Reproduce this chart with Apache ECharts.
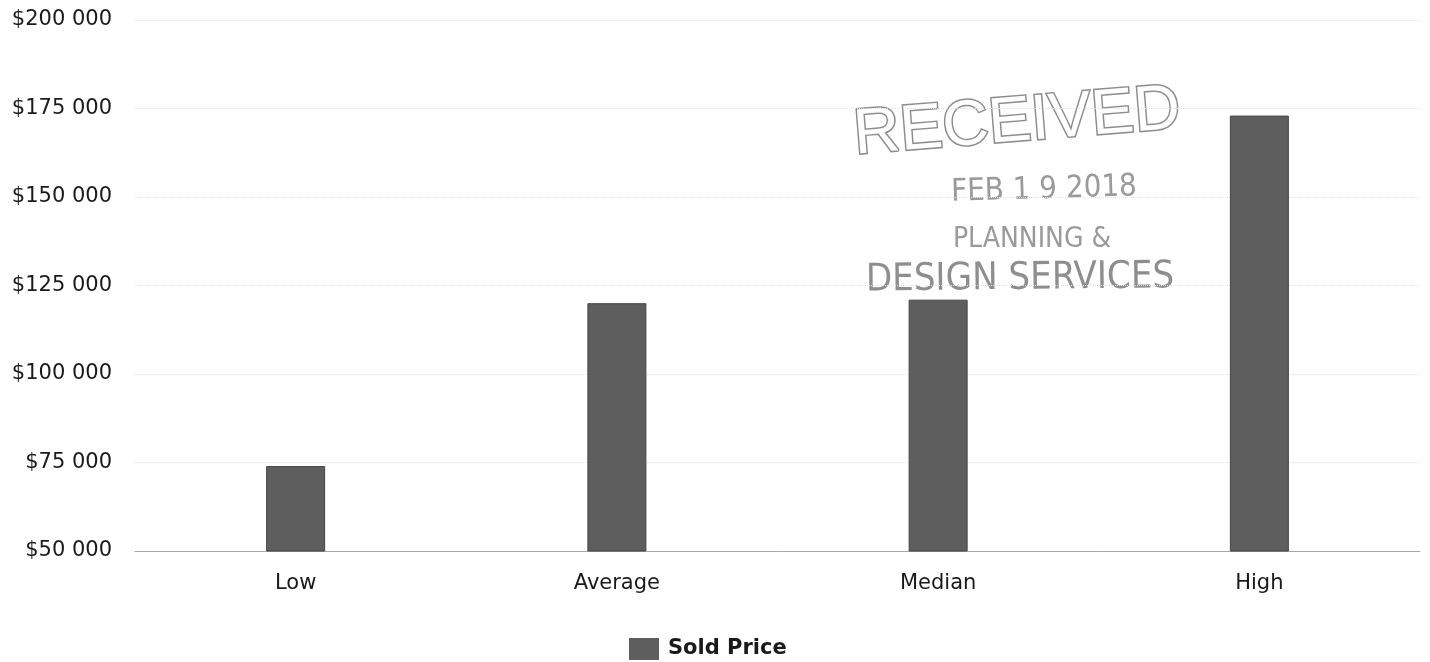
<!DOCTYPE html>
<html>
<head>
<meta charset="utf-8">
<title>Sold Price</title>
<script src="https://cdn.jsdelivr.net/npm/echarts@6/dist/echarts.min.js"></script>
<style>
  html, body { margin: 0; padding: 0; background: #fff; }
  #chart { width: 1430px; height: 662px; }
</style>
</head>
<body>
<div id="chart"></div>
<script>
// 数据
var categories = ['Low', 'Average', 'Median', 'High'];
var soldPrice = [74000, 120000, 121000, 173000];
var yMin = 50000;
var yMax = 200000;
var yStep = 25000;

// 千位用空格分隔: $200 000
function money(v) {
  return '$' + String(v).replace(/\B(?=(\d{3})+(?!\d))/g, ' ');
}

var labelFont = '"DejaVu Sans", "Open Sans", sans-serif';
var stampFont = '"Liberation Sans Narrow", "DejaVu Sans Condensed", "Liberation Sans", sans-serif';

var myChart = echarts.init(document.getElementById('chart'));

var option = {
  animation: false,
  backgroundColor: '#fff',
  grid: {
    left: 135,
    right: 10,
    top: 20,
    bottom: 111
  },
  legend: {
    data: ['Sold Price'],
    left: 624,
    top: 633,
    icon: 'rect',
    itemWidth: 30,
    itemHeight: 22,
    itemStyle: { borderWidth: 0 },
    textStyle: {
      fontFamily: labelFont,
      fontSize: 21,
      fontWeight: 'bold',
      color: '#1a1a1a',
      padding: [0, 0, 0, 4]
    }
  },
  xAxis: {
    type: 'category',
    data: categories,
    axisTick: { show: false },
    axisLine: {
      lineStyle: { color: '#a8a8a8', width: 1 }
    },
    axisLabel: {
      margin: 22,
      fontFamily: labelFont,
      fontSize: 21,
      color: '#1a1a1a'
    }
  },
  yAxis: {
    type: 'value',
    min: yMin,
    max: yMax,
    interval: yStep,
    axisLine: { show: false },
    axisTick: { show: false },
    splitLine: {
      lineStyle: { color: '#e2e2e2', type: 'dotted', width: 1 }
    },
    axisLabel: {
      margin: 23,
      fontFamily: labelFont,
      fontSize: 21,
      color: '#1a1a1a',
      formatter: money
    }
  },
  series: [
    {
      name: 'Sold Price',
      type: 'bar',
      data: soldPrice,
      barWidth: 59,
      itemStyle: {
        color: '#5e5e5e',
        borderColor: '#454545',
        borderWidth: 1
      }
    }
  ],
  // 扫描件上的收文印章
  graphic: [
    {
      type: 'text',
      x: 1017,
      y: 123,
      rotation: 0.08,
      style: {
        text: 'RECEIVED',
        font: '64px "Liberation Sans", sans-serif',
        fill: '#fff',
        stroke: '#8e8e8e',
        lineWidth: 3,
        align: 'center',
        verticalAlign: 'middle'
      }
    },
    {
      type: 'text',
      x: 1044,
      y: 190,
      rotation: 0.03,
      style: {
        text: 'FEB 1 9 2018',
        font: '31px ' + stampFont,
        fill: '#9a9a9a',
        align: 'center',
        verticalAlign: 'middle'
      }
    },
    {
      type: 'text',
      x: 1032,
      y: 240,
      style: {
        text: 'PLANNING &',
        font: '28px ' + stampFont,
        fill: '#9a9a9a',
        align: 'center',
        verticalAlign: 'middle'
      }
    },
    {
      type: 'text',
      x: 1020,
      y: 279,
      rotation: 0.01,
      style: {
        text: 'DESIGN SERVICES',
        font: '38px ' + stampFont,
        fill: '#8e8e8e',
        align: 'center',
        verticalAlign: 'middle'
      }
    }
  ]
};

myChart.setOption(option);
window.addEventListener('resize', function () {
  myChart.resize();
});
</script>
</body>
</html>
